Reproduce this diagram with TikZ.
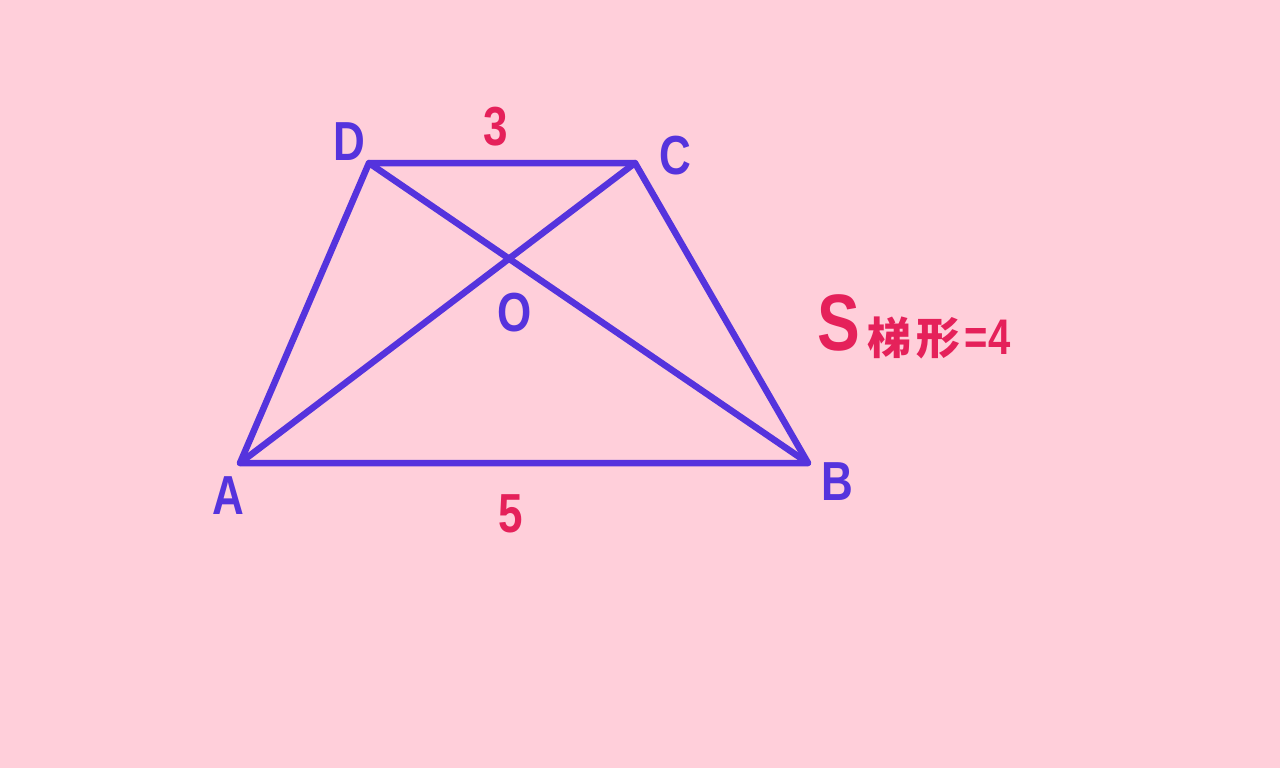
\documentclass[tikz,border=0pt]{standalone}
\usepackage{fontspec}
\setmainfont{Liberation Sans}[FakeStretch=0.8]
\newfontfamily\cjk{Noto Sans CJK SC}
\definecolor{bgpink}{HTML}{FFCFDA}
\definecolor{edgeblue}{HTML}{5533DD}
\definecolor{numred}{HTML}{E5215A}
\begin{document}
\begin{tikzpicture}[
  x=1pt, y=-1pt,
  vlabel/.style={text=edgeblue, inner sep=0pt, font=\fontsize{55}{60}\selectfont\bfseries},
  nlabel/.style={text=numred, inner sep=0pt, font=\fontsize{55}{60}\selectfont\bfseries},
  side/.style={draw=edgeblue, line width=6.5pt, line join=round, line cap=round}
  ]

\fill [bgpink] (0,0) rectangle (1280,768);
\useasboundingbox (0,0) rectangle (1280,768);

\coordinate (A) at (240,463);
\coordinate (B) at (808,463);
\coordinate (C) at (635,163);
\coordinate (D) at (369,163);

\node [vlabel] (lA) at (228,496) {A};
\node [vlabel] (lB) at (837,482) {B};
\node [vlabel] (lC) at (675,156) {C};
\node [vlabel] (lD) at (349,142) {D};
\node [vlabel] (lO) at (515,313) {O};

\node [nlabel] (top) at (496,127) {3};
\node [nlabel] (bottom) at (511,514) {5};

\node [nlabel, font=\fontsize{80}{84}\selectfont\bfseries] (area) at (839,323) {S};
\node [nlabel, anchor=west, font=\fontsize{44}{48}\selectfont\bfseries] (areatext) at (867,338)
  {{\cjk\bfseries 梯\kern5pt 形}\kern4pt{\fontsize{50}{54}\selectfont =\kern1pt 4}};

\draw [side] (A) -- (B) -- (C) -- (D) -- cycle;
\draw [side] (A) -- (C);
\draw [side] (D) -- (B);

\end{tikzpicture}
\end{document}
